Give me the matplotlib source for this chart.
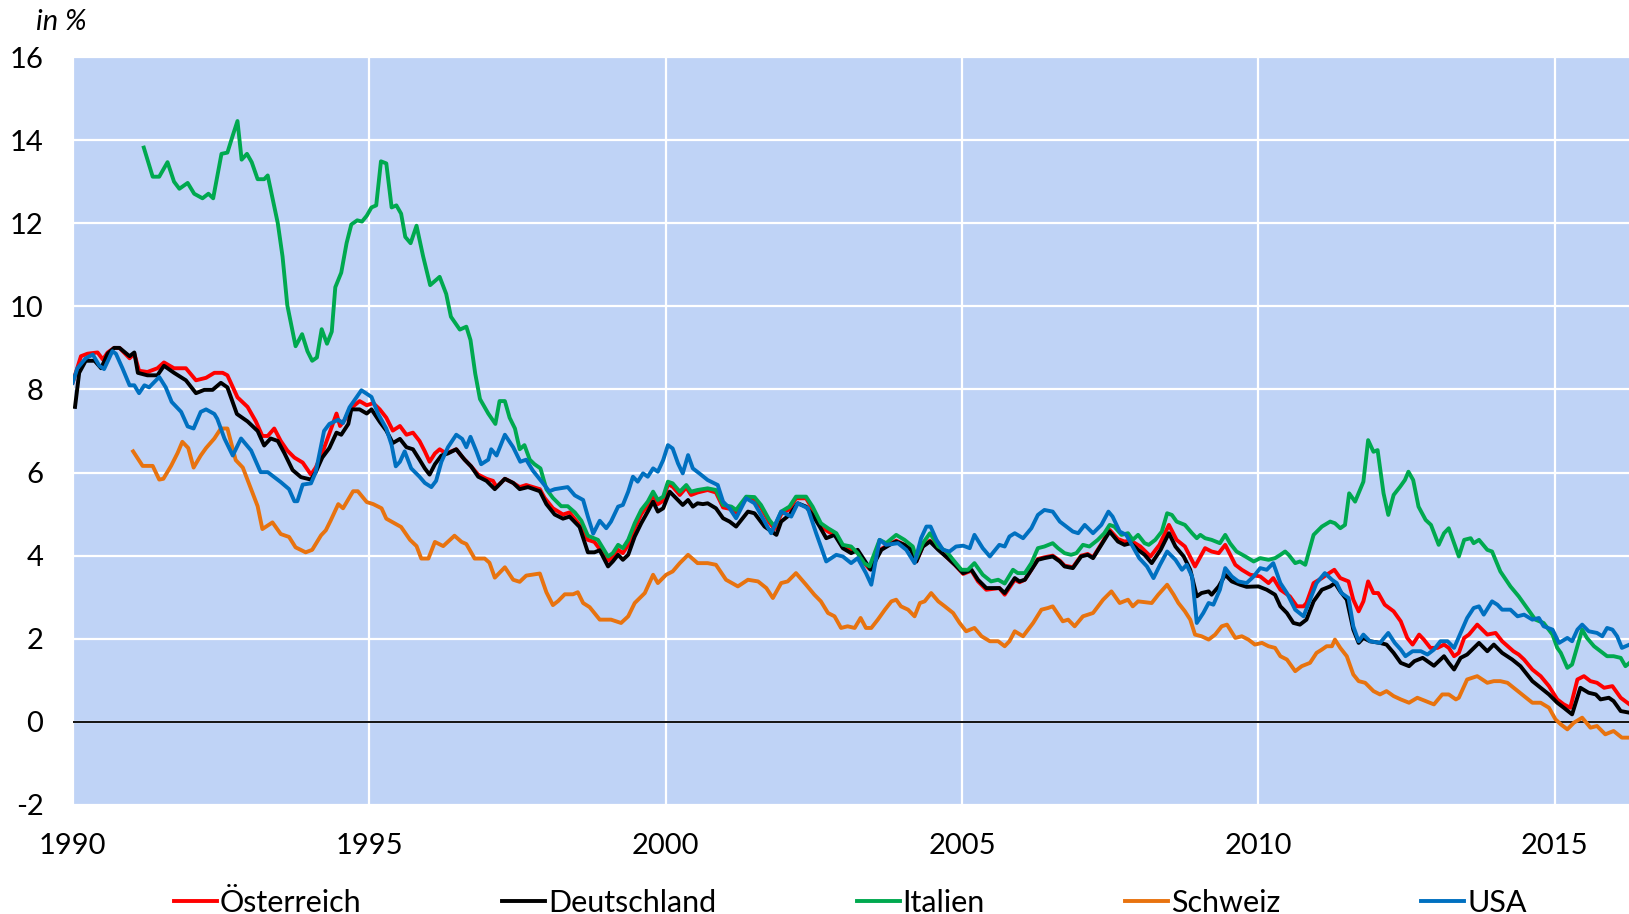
import matplotlib
matplotlib.use("Agg")
import matplotlib.pyplot as plt

# 10-year government bond yields, in % (decimal years)
years_at = [1990.00, 1990.14, 1990.25, 1990.42, 1990.51, 1990.59, 1990.70, 1990.79, 1990.96, 1991.04,
            1991.12, 1991.26, 1991.43, 1991.54, 1991.71, 1991.91, 1992.08, 1992.25, 1992.39, 1992.53,
            1992.61, 1992.78, 1992.95, 1993.09, 1993.20, 1993.29, 1993.40, 1993.51, 1993.62, 1993.74,
            1993.88, 1994.02, 1994.10, 1994.21, 1994.33, 1994.45, 1994.51, 1994.59, 1994.67, 1994.84,
            1994.96, 1995.07, 1995.18, 1995.29, 1995.40, 1995.52, 1995.63, 1995.74, 1995.85, 1995.94,
            1996.02, 1996.11, 1996.19, 1996.30, 1996.47, 1996.58, 1996.72, 1996.84, 1996.98, 1997.09,
            1997.15, 1997.29, 1997.43, 1997.54, 1997.65, 1997.88, 1997.96, 1998.10, 1998.27, 1998.38,
            1998.55, 1998.69, 1998.80, 1998.92, 1999.03, 1999.11, 1999.20, 1999.28, 1999.37, 1999.48,
            1999.59, 1999.70, 1999.79, 1999.87, 1999.96, 2000.04, 2000.12, 2000.24, 2000.35, 2000.43,
            2000.54, 2000.71, 2000.85, 2000.97, 2001.11, 2001.19, 2001.36, 2001.50, 2001.61, 2001.75,
            2001.84, 2001.95, 2002.09, 2002.20, 2002.37, 2002.48, 2002.62, 2002.74, 2002.88, 2002.99,
            2003.13, 2003.24, 2003.35, 2003.44, 2003.64, 2003.78, 2003.89, 2004.03, 2004.14, 2004.23,
            2004.34, 2004.46, 2004.60, 2004.76, 2004.88, 2005.02, 2005.16, 2005.27, 2005.41, 2005.52,
            2005.63, 2005.72, 2005.89, 2005.97, 2006.06, 2006.17, 2006.28, 2006.39, 2006.53, 2006.65,
            2006.73, 2006.87, 2007.01, 2007.12, 2007.21, 2007.35, 2007.49, 2007.63, 2007.74, 2007.85,
            2008.01, 2008.18, 2008.33, 2008.49, 2008.62, 2008.76, 2008.93, 2009.10, 2009.21, 2009.33,
            2009.44, 2009.61, 2009.72, 2009.86, 2010.03, 2010.17, 2010.25, 2010.37, 2010.53, 2010.65,
            2010.76, 2010.81, 2010.93, 2011.07, 2011.15, 2011.28, 2011.38, 2011.52, 2011.60, 2011.69,
            2011.77, 2011.85, 2011.94, 2012.02, 2012.13, 2012.28, 2012.40, 2012.51, 2012.60, 2012.71,
            2012.79, 2012.90, 2013.02, 2013.13, 2013.21, 2013.30, 2013.38, 2013.47, 2013.55, 2013.69,
            2013.86, 2014.00, 2014.11, 2014.30, 2014.39, 2014.48, 2014.62, 2014.76, 2014.90, 2015.04,
            2015.15, 2015.26, 2015.38, 2015.49, 2015.60, 2015.71, 2015.83, 2015.97, 2016.11, 2016.26]
yield_at = [8.16, 8.80, 8.86, 8.89, 8.72, 8.89, 9.00, 9.00, 8.75, 8.86,
            8.45, 8.42, 8.51, 8.65, 8.51, 8.51, 8.22, 8.28, 8.40, 8.40,
            8.34, 7.81, 7.58, 7.23, 6.88, 6.88, 7.06, 6.76, 6.53, 6.36,
            6.24, 5.95, 6.12, 6.47, 6.94, 7.42, 7.12, 7.27, 7.52, 7.72,
            7.62, 7.67, 7.52, 7.32, 7.01, 7.12, 6.91, 6.96, 6.76, 6.51,
            6.26, 6.46, 6.56, 6.46, 6.56, 6.36, 6.15, 5.95, 5.85, 5.80,
            5.65, 5.85, 5.75, 5.65, 5.70, 5.60, 5.39, 5.14, 4.99, 5.04,
            4.74, 4.38, 4.33, 4.10, 3.88, 3.96, 4.14, 4.06, 4.26, 4.66,
            5.00, 5.22, 5.46, 5.24, 5.32, 5.72, 5.66, 5.46, 5.64, 5.46,
            5.52, 5.58, 5.52, 5.16, 5.12, 5.04, 5.38, 5.36, 5.16, 4.80,
            4.64, 5.00, 5.12, 5.38, 5.38, 5.12, 4.72, 4.58, 4.48, 4.20,
            4.14, 4.08, 3.82, 3.68, 4.16, 4.28, 4.36, 4.26, 4.14, 3.86,
            4.22, 4.36, 4.16, 3.94, 3.78, 3.56, 3.64, 3.38, 3.18, 3.20,
            3.22, 3.06, 3.42, 3.36, 3.42, 3.66, 3.92, 3.96, 4.00, 3.88,
            3.76, 3.72, 4.00, 4.04, 3.96, 4.28, 4.62, 4.40, 4.34, 4.36,
            4.22, 3.98, 4.26, 4.74, 4.38, 4.22, 3.74, 4.18, 4.10, 4.06,
            4.26, 3.78, 3.66, 3.54, 3.50, 3.34, 3.46, 3.18, 3.02, 2.78,
            2.78, 2.86, 3.34, 3.46, 3.54, 3.66, 3.46, 3.38, 2.94, 2.66,
            2.90, 3.38, 3.10, 3.10, 2.82, 2.66, 2.42, 2.02, 1.86, 2.10,
            1.98, 1.78, 1.78, 1.86, 1.78, 1.58, 1.66, 2.02, 2.10, 2.34,
            2.10, 2.14, 1.94, 1.70, 1.62, 1.50, 1.26, 1.10, 0.86, 0.54,
            0.42, 0.34, 1.02, 1.10, 0.98, 0.94, 0.82, 0.86, 0.58, 0.42]

years_de = [1990.04, 1990.11, 1990.22, 1990.37, 1990.48, 1990.59, 1990.70, 1990.79, 1990.96, 1991.04,
            1991.10, 1991.26, 1991.43, 1991.54, 1991.71, 1991.91, 1992.08, 1992.22, 1992.36, 1992.50,
            1992.61, 1992.77, 1992.95, 1993.12, 1993.23, 1993.34, 1993.46, 1993.57, 1993.71, 1993.85,
            1994.02, 1994.10, 1994.21, 1994.33, 1994.45, 1994.53, 1994.65, 1994.70, 1994.84, 1994.96,
            1995.04, 1995.18, 1995.29, 1995.40, 1995.52, 1995.63, 1995.74, 1995.85, 1995.94, 1996.02,
            1996.11, 1996.22, 1996.33, 1996.47, 1996.61, 1996.72, 1996.84, 1996.98, 1997.12, 1997.29,
            1997.43, 1997.54, 1997.68, 1997.88, 1997.99, 1998.13, 1998.27, 1998.38, 1998.55, 1998.69,
            1998.80, 1998.89, 1999.03, 1999.11, 1999.20, 1999.28, 1999.37, 1999.48, 1999.59, 1999.70,
            1999.79, 1999.87, 1999.96, 2000.07, 2000.18, 2000.29, 2000.38, 2000.46, 2000.54, 2000.63,
            2000.71, 2000.85, 2000.97, 2001.08, 2001.19, 2001.39, 2001.50, 2001.67, 2001.87, 2001.95,
            2002.09, 2002.23, 2002.37, 2002.48, 2002.60, 2002.71, 2002.85, 2002.99, 2003.13, 2003.24,
            2003.35, 2003.46, 2003.64, 2003.78, 2003.89, 2004.03, 2004.14, 2004.23, 2004.34, 2004.46,
            2004.60, 2004.76, 2004.88, 2005.02, 2005.16, 2005.27, 2005.41, 2005.52, 2005.63, 2005.72,
            2005.89, 2005.97, 2006.06, 2006.17, 2006.28, 2006.39, 2006.53, 2006.65, 2006.73, 2006.87,
            2007.01, 2007.12, 2007.21, 2007.35, 2007.49, 2007.63, 2007.74, 2007.85, 2007.97, 2008.08,
            2008.20, 2008.35, 2008.49, 2008.60, 2008.74, 2008.85, 2008.96, 2009.04, 2009.16, 2009.21,
            2009.33, 2009.44, 2009.55, 2009.69, 2009.80, 2010.00, 2010.14, 2010.28, 2010.37, 2010.48,
            2010.59, 2010.70, 2010.81, 2010.93, 2011.07, 2011.21, 2011.29, 2011.38, 2011.49, 2011.60,
            2011.69, 2011.77, 2011.88, 2012.05, 2012.16, 2012.28, 2012.40, 2012.54, 2012.63, 2012.77,
            2012.85, 2012.96, 2013.13, 2013.21, 2013.30, 2013.41, 2013.52, 2013.72, 2013.86, 2013.97,
            2014.11, 2014.28, 2014.42, 2014.53, 2014.62, 2014.76, 2014.90, 2015.04, 2015.15, 2015.29,
            2015.43, 2015.57, 2015.69, 2015.77, 2015.91, 2015.99, 2016.11, 2016.26]
yield_de = [7.58, 8.40, 8.69, 8.69, 8.51, 8.86, 9.00, 9.00, 8.80, 8.89,
            8.40, 8.34, 8.34, 8.57, 8.40, 8.22, 7.91, 7.99, 7.99, 8.16,
            8.05, 7.41, 7.23, 7.00, 6.65, 6.82, 6.76, 6.47, 6.06, 5.89,
            5.83, 6.01, 6.36, 6.59, 6.96, 6.91, 7.17, 7.52, 7.52, 7.42,
            7.52, 7.22, 7.01, 6.71, 6.81, 6.61, 6.56, 6.31, 6.10, 5.95,
            6.20, 6.41, 6.46, 6.56, 6.31, 6.15, 5.90, 5.80, 5.60, 5.85,
            5.75, 5.60, 5.65, 5.55, 5.24, 4.99, 4.89, 4.94, 4.69, 4.08,
            4.08, 4.13, 3.74, 3.86, 4.02, 3.90, 4.02, 4.46, 4.78, 5.06,
            5.30, 5.06, 5.14, 5.54, 5.38, 5.22, 5.34, 5.18, 5.26, 5.24,
            5.26, 5.14, 4.90, 4.82, 4.70, 5.06, 5.02, 4.70, 4.50, 4.82,
            4.98, 5.26, 5.18, 4.98, 4.70, 4.42, 4.50, 4.18, 4.06, 4.14,
            3.90, 3.66, 4.14, 4.26, 4.34, 4.26, 4.14, 3.86, 4.22, 4.34,
            4.14, 3.94, 3.78, 3.58, 3.66, 3.42, 3.22, 3.22, 3.22, 3.10,
            3.46, 3.38, 3.42, 3.66, 3.90, 3.94, 3.98, 3.86, 3.74, 3.70,
            3.98, 4.02, 3.94, 4.26, 4.58, 4.34, 4.26, 4.30, 4.14, 4.02,
            3.82, 4.14, 4.54, 4.22, 3.98, 3.66, 3.02, 3.10, 3.14, 3.06,
            3.26, 3.54, 3.38, 3.30, 3.25, 3.26, 3.18, 3.06, 2.78, 2.62,
            2.38, 2.34, 2.46, 2.90, 3.18, 3.26, 3.34, 3.14, 2.94, 2.22,
            1.90, 2.02, 1.94, 1.90, 1.86, 1.66, 1.42, 1.34, 1.46, 1.54,
            1.46, 1.35, 1.58, 1.42, 1.26, 1.54, 1.62, 1.90, 1.70, 1.86,
            1.66, 1.50, 1.34, 1.14, 0.98, 0.82, 0.66, 0.46, 0.34, 0.18,
            0.82, 0.70, 0.66, 0.54, 0.58, 0.50, 0.26, 0.22]

years_it = [1991.20, 1991.35, 1991.46, 1991.60, 1991.71, 1991.80, 1991.94, 1992.05, 1992.19, 1992.29,
            1992.37, 1992.51, 1992.61, 1992.70, 1992.78, 1992.85, 1992.94, 1993.02, 1993.12, 1993.23,
            1993.29, 1993.46, 1993.54, 1993.62, 1993.76, 1993.87, 1993.96, 1994.04, 1994.12, 1994.20,
            1994.29, 1994.37, 1994.43, 1994.53, 1994.62, 1994.70, 1994.80, 1994.88, 1994.96, 1995.04,
            1995.12, 1995.20, 1995.29, 1995.38, 1995.46, 1995.54, 1995.61, 1995.70, 1995.80, 1995.91,
            1996.03, 1996.19, 1996.30, 1996.38, 1996.53, 1996.64, 1996.71, 1996.79, 1996.87, 1997.01,
            1997.13, 1997.20, 1997.29, 1997.37, 1997.46, 1997.54, 1997.62, 1997.71, 1997.79, 1997.89,
            1997.99, 1998.10, 1998.24, 1998.35, 1998.47, 1998.58, 1998.69, 1998.86, 1999.03, 1999.11,
            1999.20, 1999.28, 1999.37, 1999.48, 1999.59, 1999.70, 1999.79, 1999.87, 1999.96, 2000.04,
            2000.12, 2000.24, 2000.35, 2000.43, 2000.54, 2000.71, 2000.85, 2000.97, 2001.11, 2001.19,
            2001.36, 2001.50, 2001.61, 2001.75, 2001.84, 2001.95, 2002.09, 2002.20, 2002.37, 2002.48,
            2002.62, 2002.74, 2002.88, 2002.99, 2003.13, 2003.24, 2003.35, 2003.44, 2003.61, 2003.72,
            2003.89, 2004.03, 2004.17, 2004.23, 2004.34, 2004.46, 2004.60, 2004.74, 2004.85, 2004.99,
            2005.10, 2005.21, 2005.35, 2005.49, 2005.61, 2005.72, 2005.86, 2005.94, 2006.06, 2006.17,
            2006.28, 2006.39, 2006.53, 2006.62, 2006.73, 2006.84, 2006.93, 2007.04, 2007.15, 2007.29,
            2007.40, 2007.49, 2007.57, 2007.69, 2007.80, 2007.88, 2007.97, 2008.08, 2008.15, 2008.26,
            2008.37, 2008.46, 2008.54, 2008.62, 2008.76, 2008.88, 2008.96, 2009.02, 2009.10, 2009.21,
            2009.35, 2009.44, 2009.52, 2009.63, 2009.78, 2009.92, 2010.03, 2010.17, 2010.28, 2010.37,
            2010.45, 2010.51, 2010.62, 2010.70, 2010.79, 2010.93, 2011.07, 2011.21, 2011.29, 2011.38,
            2011.46, 2011.53, 2011.63, 2011.77, 2011.85, 2011.94, 2012.01, 2012.11, 2012.19, 2012.28,
            2012.39, 2012.47, 2012.53, 2012.61, 2012.70, 2012.82, 2012.91, 2013.04, 2013.13, 2013.21,
            2013.38, 2013.47, 2013.58, 2013.63, 2013.72, 2013.86, 2013.94, 2014.08, 2014.25, 2014.39,
            2014.53, 2014.67, 2014.81, 2014.96, 2015.04, 2015.10, 2015.21, 2015.29, 2015.46, 2015.54,
            2015.66, 2015.77, 2015.88, 2015.99, 2016.11, 2016.19, 2016.26]
yield_it = [13.82, 13.12, 13.12, 13.47, 13.00, 12.83, 12.97, 12.71, 12.60, 12.71,
            12.60, 13.67, 13.70, 14.11, 14.46, 13.53, 13.67, 13.47, 13.06, 13.06,
            13.15, 12.00, 11.20, 10.03, 9.04, 9.33, 8.92, 8.69, 8.77, 9.45,
            9.10, 9.39, 10.46, 10.81, 11.52, 11.97, 12.07, 12.04, 12.18, 12.38,
            12.43, 13.49, 13.44, 12.38, 12.43, 12.23, 11.67, 11.52, 11.94, 11.21,
            10.51, 10.71, 10.30, 9.75, 9.44, 9.51, 9.19, 8.38, 7.77, 7.42,
            7.17, 7.72, 7.72, 7.32, 7.06, 6.56, 6.66, 6.31, 6.20, 6.10,
            5.60, 5.39, 5.19, 5.19, 5.04, 4.84, 4.48, 4.38, 3.98, 4.06,
            4.26, 4.18, 4.38, 4.78, 5.10, 5.30, 5.54, 5.34, 5.42, 5.78,
            5.74, 5.54, 5.70, 5.54, 5.58, 5.62, 5.58, 5.22, 5.18, 5.10,
            5.42, 5.41, 5.22, 4.86, 4.70, 5.06, 5.18, 5.42, 5.42, 5.18,
            4.78, 4.66, 4.54, 4.26, 4.22, 4.06, 3.82, 3.74, 4.38, 4.30,
            4.50, 4.38, 4.22, 3.94, 4.30, 4.54, 4.22, 4.10, 3.90, 3.66,
            3.66, 3.82, 3.54, 3.38, 3.42, 3.33, 3.66, 3.58, 3.58, 3.82,
            4.18, 4.22, 4.30, 4.18, 4.06, 4.02, 4.06, 4.26, 4.22, 4.38,
            4.54, 4.74, 4.70, 4.50, 4.54, 4.38, 4.50, 4.30, 4.26, 4.38,
            4.58, 5.02, 4.98, 4.82, 4.74, 4.54, 4.42, 4.50, 4.42, 4.38,
            4.30, 4.50, 4.30, 4.10, 3.98, 3.86, 3.94, 3.90, 3.94, 4.02,
            4.10, 4.02, 3.82, 3.86, 3.78, 4.50, 4.70, 4.82, 4.78, 4.66,
            4.74, 5.50, 5.30, 5.78, 6.78, 6.50, 6.54, 5.50, 4.98, 5.46,
            5.66, 5.82, 6.02, 5.82, 5.18, 4.86, 4.74, 4.26, 4.54, 4.66,
            3.98, 4.38, 4.42, 4.30, 4.38, 4.14, 4.10, 3.62, 3.26, 3.02,
            2.74, 2.46, 2.38, 2.10, 1.78, 1.66, 1.30, 1.38, 2.22, 2.02,
            1.82, 1.70, 1.58, 1.58, 1.54, 1.34, 1.42]

years_ch = [1991.02, 1991.18, 1991.35, 1991.46, 1991.53, 1991.66, 1991.77, 1991.85, 1991.95, 1992.04,
            1992.16, 1992.25, 1992.39, 1992.50, 1992.61, 1992.75, 1992.87, 1993.01, 1993.12, 1993.20,
            1993.37, 1993.51, 1993.65, 1993.76, 1993.93, 1994.04, 1994.19, 1994.27, 1994.35, 1994.48,
            1994.56, 1994.73, 1994.81, 1994.96, 1995.07, 1995.21, 1995.29, 1995.54, 1995.69, 1995.80,
            1995.88, 1996.00, 1996.11, 1996.25, 1996.44, 1996.56, 1996.64, 1996.78, 1996.95, 1997.03,
            1997.12, 1997.29, 1997.43, 1997.54, 1997.65, 1997.88, 1997.99, 1998.10, 1998.19, 1998.30,
            1998.44, 1998.52, 1998.61, 1998.72, 1998.89, 1999.08, 1999.25, 1999.37, 1999.48, 1999.65,
            1999.79, 1999.87, 2000.01, 2000.12, 2000.24, 2000.38, 2000.54, 2000.71, 2000.85, 2001.02,
            2001.22, 2001.39, 2001.56, 2001.70, 2001.81, 2001.95, 2002.06, 2002.20, 2002.37, 2002.51,
            2002.62, 2002.74, 2002.85, 2002.96, 2003.07, 2003.19, 2003.29, 2003.38, 2003.47, 2003.58,
            2003.70, 2003.81, 2003.89, 2003.97, 2004.09, 2004.20, 2004.29, 2004.37, 2004.48, 2004.60,
            2004.71, 2004.85, 2004.96, 2005.07, 2005.21, 2005.33, 2005.47, 2005.61, 2005.72, 2005.80,
            2005.89, 2006.03, 2006.20, 2006.34, 2006.45, 2006.53, 2006.70, 2006.79, 2006.90, 2007.04,
            2007.21, 2007.38, 2007.52, 2007.66, 2007.80, 2007.88, 2007.97, 2008.20, 2008.31, 2008.46,
            2008.57, 2008.65, 2008.76, 2008.85, 2008.93, 2009.04, 2009.16, 2009.27, 2009.38, 2009.47,
            2009.61, 2009.72, 2009.83, 2009.94, 2010.06, 2010.17, 2010.28, 2010.37, 2010.48, 2010.62,
            2010.73, 2010.87, 2010.98, 2011.07, 2011.15, 2011.24, 2011.29, 2011.38, 2011.49, 2011.60,
            2011.69, 2011.80, 2011.94, 2012.05, 2012.16, 2012.28, 2012.40, 2012.54, 2012.68, 2012.82,
            2012.96, 2013.10, 2013.21, 2013.33, 2013.38, 2013.52, 2013.69, 2013.86, 2013.97, 2014.08,
            2014.20, 2014.34, 2014.48, 2014.62, 2014.76, 2014.90, 2015.01, 2015.10, 2015.21, 2015.32,
            2015.46, 2015.60, 2015.71, 2015.85, 2015.99, 2016.13, 2016.26]
yield_ch = [6.51, 6.16, 6.16, 5.83, 5.85, 6.16, 6.47, 6.74, 6.59, 6.12,
            6.41, 6.59, 6.82, 7.06, 7.06, 6.30, 6.12, 5.60, 5.19, 4.64,
            4.80, 4.52, 4.45, 4.20, 4.08, 4.14, 4.49, 4.61, 4.84, 5.24,
            5.14, 5.55, 5.55, 5.29, 5.24, 5.14, 4.89, 4.69, 4.38, 4.23,
            3.93, 3.93, 4.33, 4.23, 4.48, 4.33, 4.28, 3.93, 3.93, 3.83,
            3.47, 3.72, 3.42, 3.37, 3.52, 3.57, 3.12, 2.81, 2.91, 3.07,
            3.07, 3.12, 2.86, 2.76, 2.46, 2.46, 2.38, 2.54, 2.86, 3.10,
            3.54, 3.34, 3.54, 3.62, 3.82, 4.02, 3.82, 3.82, 3.78, 3.42,
            3.26, 3.42, 3.38, 3.22, 2.98, 3.34, 3.38, 3.58, 3.30, 3.06,
            2.90, 2.62, 2.54, 2.26, 2.30, 2.26, 2.50, 2.26, 2.26, 2.46,
            2.70, 2.90, 2.94, 2.78, 2.70, 2.54, 2.86, 2.90, 3.10, 2.90,
            2.78, 2.62, 2.38, 2.18, 2.26, 2.06, 1.94, 1.94, 1.82, 1.94,
            2.18, 2.06, 2.38, 2.70, 2.74, 2.78, 2.42, 2.46, 2.30, 2.54,
            2.62, 2.94, 3.14, 2.86, 2.94, 2.78, 2.90, 2.86, 3.06, 3.30,
            3.06, 2.86, 2.66, 2.46, 2.10, 2.06, 1.98, 2.10, 2.30, 2.34,
            2.02, 2.06, 1.98, 1.86, 1.90, 1.82, 1.78, 1.58, 1.50, 1.22,
            1.34, 1.42, 1.66, 1.74, 1.82, 1.82, 1.98, 1.78, 1.58, 1.14,
            0.98, 0.94, 0.74, 0.66, 0.74, 0.62, 0.54, 0.46, 0.58, 0.50,
            0.42, 0.66, 0.66, 0.54, 0.58, 1.02, 1.10, 0.94, 0.98, 0.98,
            0.94, 0.78, 0.62, 0.46, 0.46, 0.34, 0.06, -0.06, -0.18, -0.02,
            0.10, -0.14, -0.10, -0.30, -0.22, -0.38, -0.38]

years_us = [1990.00, 1990.08, 1990.22, 1990.34, 1990.45, 1990.53, 1990.67, 1990.73, 1990.84, 1990.96,
            1991.04, 1991.12, 1991.21, 1991.29, 1991.46, 1991.57, 1991.67, 1991.83, 1991.94, 1992.04,
            1992.16, 1992.25, 1992.39, 1992.44, 1992.56, 1992.70, 1992.84, 1993.01, 1993.17, 1993.29,
            1993.40, 1993.51, 1993.65, 1993.74, 1993.79, 1993.88, 1994.02, 1994.10, 1994.24, 1994.33,
            1994.48, 1994.56, 1994.67, 1994.87, 1995.04, 1995.15, 1995.29, 1995.38, 1995.45, 1995.52,
            1995.60, 1995.71, 1995.85, 1995.94, 1996.05, 1996.13, 1996.22, 1996.33, 1996.47, 1996.57,
            1996.64, 1996.71, 1996.81, 1996.89, 1997.01, 1997.06, 1997.15, 1997.29, 1997.43, 1997.55,
            1997.65, 1997.76, 1997.90, 1998.04, 1998.13, 1998.35, 1998.47, 1998.61, 1998.69, 1998.78,
            1998.89, 1999.00, 1999.08, 1999.20, 1999.28, 1999.37, 1999.45, 1999.53, 1999.62, 1999.70,
            1999.79, 1999.87, 1999.96, 2000.04, 2000.12, 2000.21, 2000.29, 2000.38, 2000.46, 2000.57,
            2000.71, 2000.88, 2000.97, 2001.08, 2001.19, 2001.36, 2001.50, 2001.67, 2001.78, 2001.95,
            2002.12, 2002.23, 2002.40, 2002.54, 2002.71, 2002.88, 2002.99, 2003.13, 2003.24, 2003.38,
            2003.47, 2003.61, 2003.72, 2003.92, 2004.06, 2004.20, 2004.31, 2004.40, 2004.47, 2004.57,
            2004.68, 2004.79, 2004.90, 2005.02, 2005.13, 2005.21, 2005.35, 2005.47, 2005.63, 2005.72,
            2005.80, 2005.89, 2006.03, 2006.17, 2006.28, 2006.39, 2006.53, 2006.65, 2006.76, 2006.87,
            2006.96, 2007.07, 2007.21, 2007.35, 2007.47, 2007.54, 2007.66, 2007.77, 2007.88, 2007.99,
            2008.12, 2008.23, 2008.34, 2008.46, 2008.60, 2008.71, 2008.79, 2008.88, 2008.96, 2009.07,
            2009.16, 2009.24, 2009.35, 2009.44, 2009.55, 2009.66, 2009.80, 2009.92, 2010.03, 2010.14,
            2010.25, 2010.37, 2010.48, 2010.62, 2010.76, 2010.87, 2010.98, 2011.12, 2011.24, 2011.32,
            2011.40, 2011.52, 2011.60, 2011.69, 2011.77, 2011.88, 2012.05, 2012.19, 2012.30, 2012.40,
            2012.48, 2012.60, 2012.74, 2012.85, 2012.96, 2013.07, 2013.19, 2013.30, 2013.41, 2013.52,
            2013.63, 2013.72, 2013.80, 2013.94, 2014.03, 2014.11, 2014.25, 2014.37, 2014.48, 2014.62,
            2014.73, 2014.81, 2014.96, 2015.07, 2015.21, 2015.29, 2015.38, 2015.46, 2015.57, 2015.71,
            2015.80, 2015.88, 2015.97, 2016.05, 2016.13, 2016.26]
yield_us = [8.16, 8.51, 8.75, 8.84, 8.57, 8.49, 8.92, 8.86, 8.51, 8.10,
            8.10, 7.91, 8.10, 8.05, 8.30, 8.05, 7.70, 7.46, 7.11, 7.06,
            7.46, 7.52, 7.41, 7.29, 6.82, 6.41, 6.82, 6.53, 6.01, 6.01,
            5.89, 5.77, 5.60, 5.31, 5.31, 5.71, 5.74, 6.01, 7.00, 7.17,
            7.27, 7.19, 7.57, 7.98, 7.82, 7.42, 7.06, 6.66, 6.15, 6.26,
            6.51, 6.10, 5.90, 5.75, 5.65, 5.80, 6.26, 6.61, 6.91, 6.81,
            6.61, 6.86, 6.51, 6.20, 6.31, 6.56, 6.41, 6.91, 6.61, 6.26,
            6.31, 6.05, 5.80, 5.55, 5.60, 5.65, 5.45, 5.34, 4.94, 4.53,
            4.84, 4.66, 4.82, 5.18, 5.22, 5.54, 5.90, 5.78, 5.98, 5.90,
            6.10, 6.02, 6.30, 6.66, 6.58, 6.22, 5.98, 6.42, 6.10, 5.98,
            5.82, 5.70, 5.30, 5.14, 4.90, 5.38, 5.26, 4.82, 4.54, 5.06,
            4.94, 5.26, 5.14, 4.54, 3.86, 4.02, 3.98, 3.82, 3.94, 3.58,
            3.30, 4.38, 4.26, 4.30, 4.14, 3.82, 4.42, 4.70, 4.70, 4.38,
            4.14, 4.10, 4.22, 4.24, 4.18, 4.50, 4.18, 3.98, 4.26, 4.22,
            4.46, 4.54, 4.42, 4.66, 4.98, 5.10, 5.06, 4.82, 4.70, 4.58,
            4.54, 4.74, 4.54, 4.74, 5.06, 4.94, 4.58, 4.50, 4.22, 3.94,
            3.74, 3.46, 3.78, 4.10, 3.90, 3.66, 3.78, 3.50, 2.38, 2.62,
            2.86, 2.82, 3.18, 3.70, 3.50, 3.38, 3.34, 3.50, 3.70, 3.66,
            3.82, 3.34, 3.10, 2.70, 2.54, 2.94, 3.34, 3.58, 3.42, 3.34,
            3.10, 2.98, 2.30, 1.94, 2.10, 1.94, 1.90, 2.14, 1.90, 1.74,
            1.58, 1.70, 1.70, 1.62, 1.74, 1.94, 1.94, 1.78, 2.14, 2.50,
            2.74, 2.78, 2.58, 2.90, 2.82, 2.70, 2.70, 2.54, 2.58, 2.46,
            2.50, 2.30, 2.22, 1.90, 2.02, 1.94, 2.22, 2.34, 2.18, 2.14,
            2.06, 2.26, 2.22, 2.06, 1.78, 1.86]

series_names = ["Österreich", "Deutschland", "Italien", "Schweiz", "USA"]
series_colors = ["#FF0000", "#000000", "#00A94F", "#E8730F", "#0070C0"]
year_ticks = [1990, 1995, 2000, 2005, 2010, 2015]
value_ticks = [-2, 0, 2, 4, 6, 8, 10, 12, 14, 16]

plt.rcParams["font.family"] = ["Lato", "DejaVu Sans"]
plt.rcParams["axes.unicode_minus"] = False

fig = plt.figure(figsize=(16.29, 9.14), dpi=100)
ax = fig.add_axes([0.0446, 0.1193, 0.9554, 0.8183])
ax.set_facecolor("#BFD3F6")

all_series = [(years_at, yield_at), (years_de, yield_de), (years_it, yield_it),
              (years_ch, yield_ch), (years_us, yield_us)]
for (xs, ys), name, col in zip(all_series, series_names, series_colors):
    ax.plot(xs, ys, color=col, lw=2.8, label=name, solid_joinstyle="round", zorder=3)

ax.axhline(0, color="black", lw=1.3, zorder=2)

ax.set_xlim(1990, 2016.25)
ax.set_ylim(-2, 16)
ax.set_xticks(year_ticks)
ax.set_yticks(value_ticks)
ax.grid(True, color="white", lw=1.6, zorder=1)
ax.set_axisbelow(True)
for s in ax.spines.values():
    s.set_visible(False)
ax.tick_params(length=0, labelsize=21)
ax.tick_params(axis="y", pad=21)
ax.tick_params(axis="x", pad=20)

fig.text(0.022, 0.976, "in %", fontsize=21, style="italic", va="center", ha="left")

fig.legend(loc="center", bbox_to_anchor=(0.522, 0.012), ncol=5, frameon=False,
           fontsize=22, handlelength=1.4, handletextpad=0.1, columnspacing=4.6)

fig.savefig("out.png", dpi=100)
